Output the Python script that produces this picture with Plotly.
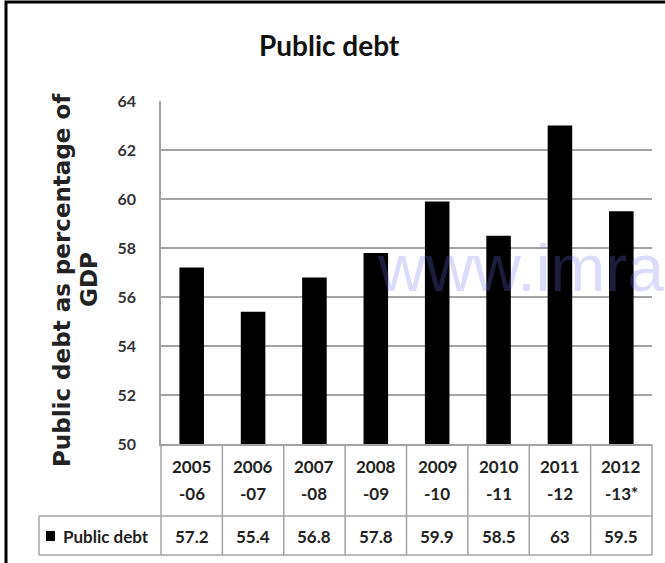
import plotly.graph_objects as go

categories = ["2005-06", "2006-07", "2007-08", "2008-09", "2009-10", "2010-11", "2011-12", "2012-13*"]
public_debt = [57.2, 55.4, 56.8, 57.8, 59.9, 58.5, 63, 59.5]
value_labels = ["57.2", "55.4", "56.8", "57.8", "59.9", "58.5", "63", "59.5"]
y_ticks = [50, 52, 54, 56, 58, 60, 62, 64]
series_name = "Public debt"
title_text = "Public debt"
y_title_lines = ["Public debt as percentage of", "GDP"]
watermark = "www.imran"

W, H = 665, 563
L, R, T, B = 161, 652, 101, 444  # plot area pixel box


def xp(px):
    return (px - L) / (R - L)


def yp(py):
    return (B - py) / (B - T)


fig = go.Figure()
fig.add_trace(go.Bar(
    x=list(range(len(categories))),
    y=public_debt,
    width=0.4,
    marker=dict(color="black", line=dict(width=0)),
    name=series_name,
    showlegend=False,
    hoverinfo="x+y",
))

grid = "#a3a3a3"
fig.update_layout(
    width=W, height=H,
    margin=dict(l=L, r=W - R, t=T, b=H - B),
    paper_bgcolor="white", plot_bgcolor="white",
    showlegend=False,
    bargap=0.6,
    xaxis=dict(range=[-0.5, len(categories) - 0.5], showticklabels=False, showgrid=False,
               zeroline=False, showline=True, linecolor=grid, linewidth=1.5, ticks=""),
    yaxis=dict(range=[50, 64], tickvals=y_ticks, ticktext=[str(v) for v in y_ticks],
               showgrid=True, gridcolor=grid, gridwidth=1.5, zeroline=False,
               showline=True, linecolor=grid, linewidth=1.5, ticks="",
               ticklabelstandoff=20,
               tickfont=dict(family="Lato", size=16, color="#333333", weight="bold")),
)

anns = []
shapes = []

# Title
anns.append(dict(text=title_text, xref="paper", yref="paper", x=xp(329), y=yp(45),
                 xanchor="center", yanchor="middle", showarrow=False,
                 font=dict(family="Lato", size=28, color="#111111", weight="bold")))

# Y-axis title (two rotated lines)
for xpx, line in zip((62, 89), y_title_lines):
    anns.append(dict(text=line, xref="paper", yref="paper", x=xp(xpx), y=yp(280),
                     xanchor="center", yanchor="middle", showarrow=False, textangle=-90,
                     font=dict(family="DejaVu Sans", size=23, color="#222222", weight="bold")))

tfont = dict(family="Lato", size=17, color="#222222", weight="bold")
# Table header: category labels in two lines, and values row
for i, c in enumerate(categories):
    top, bottom = c[:4], c[4:]
    anns.append(dict(text=top, xref="x", yref="paper", x=i, y=yp(466),
                     xanchor="center", yanchor="middle", showarrow=False, font=tfont))
    anns.append(dict(text=bottom, xref="x", yref="paper", x=i, y=yp(493),
                     xanchor="center", yanchor="middle", showarrow=False, font=tfont))
    anns.append(dict(text=value_labels[i], xref="x", yref="paper", x=i, y=yp(536),
                     xanchor="center", yanchor="middle", showarrow=False, font=tfont))

# Row label with legend key
anns.append(dict(text=series_name, xref="paper", yref="paper", x=xp(61), y=yp(536),
                 xanchor="left", yanchor="middle", showarrow=False, font=tfont))
shapes.append(dict(type="rect", xref="paper", yref="paper",
                   x0=xp(46), x1=xp(55), y0=yp(541), y1=yp(531),
                   fillcolor="black", line=dict(width=0)))

# Table lines
n = len(categories)
for i in range(n + 1):
    xv = i / n
    shapes.append(dict(type="line", xref="paper", yref="paper", x0=xv, x1=xv,
                       y0=yp(444), y1=yp(555), line=dict(color=grid, width=1.5)))
for py in (516, 555):
    shapes.append(dict(type="line", xref="paper", yref="paper", x0=xp(39), x1=1,
                       y0=yp(py), y1=yp(py), line=dict(color=grid, width=1.5)))
shapes.append(dict(type="line", xref="paper", yref="paper", x0=xp(39), x1=xp(39),
                   y0=yp(516), y1=yp(555), line=dict(color=grid, width=1.5)))

# Outer frame (left and top visible)
shapes.append(dict(type="rect", xref="paper", yref="paper",
                   x0=xp(6), x1=xp(720), y0=yp(620), y1=yp(2),
                   line=dict(color="black", width=3), fillcolor="rgba(0,0,0,0)"))

# Watermark (cut off at the right edge, as in the source image)
anns.append(dict(text=watermark, xref="paper", yref="paper", x=xp(375), y=yp(268),
                 xanchor="left", yanchor="middle", showarrow=False,
                 font=dict(family="Liberation Sans", size=66, color="rgba(110,110,235,0.25)")))

fig.update_layout(annotations=anns, shapes=shapes)
fig.write_html("out.html", config={"displayModeBar": False},
               post_script="document.body.style.margin='0';document.body.style.overflow='hidden';")
